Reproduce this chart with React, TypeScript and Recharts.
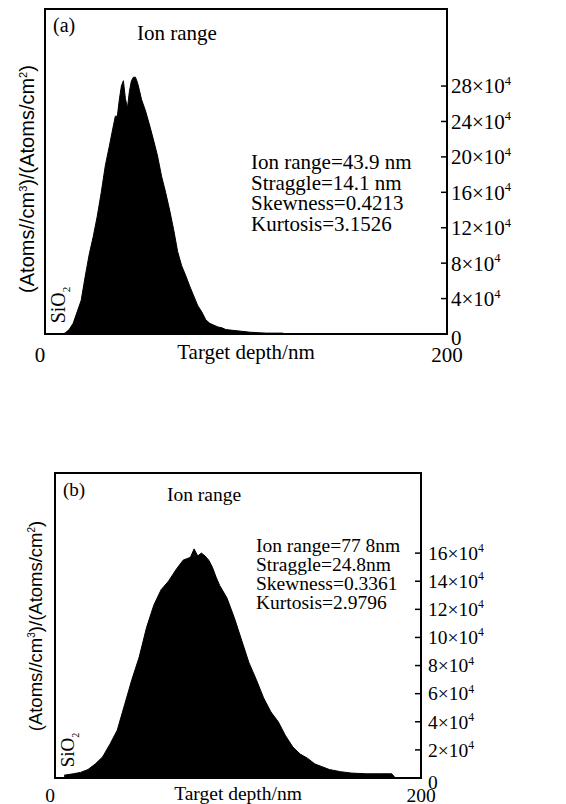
import React from 'react';
import { AreaChart, Area, XAxis, YAxis, ReferenceArea } from 'recharts';

// Panel (a): depth (nm) and concentration (x10^4)
const depthA = [8,10,12,14,16,18,20,22,24,26,28,30,32,34,35,36,37,38,39,40,41,42,43,44,45,46,47,48,50,52,54,56,58,60,62,64,66,68,70,72,74,76,78,80,82,84,86,88,90,94,98,102,106,110,114,118,120];
const valueA = [0,0.1,0.5,1.2,2.5,3.8,6.5,9.0,11.0,13.3,16.0,19.0,21.2,23.5,24.6,24.6,26.5,28.0,28.6,26.6,25.5,27.4,28.6,29.0,29.0,28.4,27.5,26.5,25.2,23.6,21.9,20.1,17.8,16.0,14.0,11.8,9.3,7.7,6.6,5.4,4.3,3.2,2.5,1.6,1.2,1.0,0.8,0.7,0.5,0.4,0.3,0.2,0.15,0.1,0.1,0.1,0];
const yTicksA = [0,4,8,12,16,20,24,28];
const statsA = ['Ion range=43.9 nm', 'Straggle=14.1 nm', 'Skewness=0.4213', 'Kurtosis=3.1526'];

// Panel (b)
const depthB = [5,10,14,18,22,26,30,34,38,42,46,50,54,58,62,66,70,74,76,78,80,82,84,86,88,90,94,98,102,106,110,114,118,122,126,130,134,138,142,146,150,156,162,170,178,184,186];
const valueB = [0.2,0.3,0.4,0.6,1.0,1.5,2.4,3.4,5.2,7.0,8.6,10.7,12.3,13.4,14.0,14.8,15.5,15.7,16.3,15.8,16.0,15.8,15.5,15.0,14.3,13.7,12.8,11.4,9.8,8.2,7.0,5.7,4.7,4.0,3.0,2.2,1.7,1.4,1.0,0.8,0.6,0.45,0.35,0.3,0.3,0.3,0];
const yTicksB = [0,2,4,6,8,10,12,14,16];
const statsB = ['Ion range=77 8nm', 'Straggle=24.8nm', 'Skewness=0.3361', 'Kurtosis=2.9796'];

const xTicks = [0, 200];

const SERIF = '"Liberation Serif", "Times New Roman", serif';
const SANS = '"Liberation Sans", Arial, sans-serif';

const dataA = depthA.map((d, i) => ({ depth: d, value: valueA[i] }));
const dataB = depthB.map((d, i) => ({ depth: d, value: valueB[i] }));

function makeYTick(fs: number, gap: number) {
  return (props: any) => {
    const { x, y, payload } = props;
    const v = payload.value;
    return (
      <g>
        <line x1={x - 6} x2={x} y1={y} y2={y} stroke="#000" strokeWidth={1.5} />
        {v === 0 ? (
          <text x={x + gap} y={y + 4} dy="0.35em" fontFamily={SERIF} fontSize={fs} fill="#000">0</text>
        ) : (
          <text x={x + gap} y={y} dy="0.35em" fontFamily={SERIF} fontSize={fs} fill="#000">
            {v}×10<tspan dy={-fs * 0.4} fontSize={fs * 0.6}>4</tspan>
          </text>
        )}
      </g>
    );
  };
}

function makeXTick(fs: number, off: number) {
  return (props: any) => {
    const { x, y, payload } = props;
    const v = payload.value;
    return (
      <text x={v === 0 ? x - 5 : x} y={y + off} dy="0.35em" textAnchor="middle" fontFamily={SERIF} fontSize={fs} fill="#000">{v}</text>
    );
  };
}

function Panel(props: any) {
  const { data, top, height, margin, yMax, yTicks, fs, xOff, yGap, xLabelOff } = props;
  return (
    <div style={{ position: 'absolute', left: 0, top, width: 566, height }}>
      <AreaChart width={566} height={height} data={data} margin={margin}>
        <XAxis
          dataKey="depth"
          type="number"
          domain={[0, 200]}
          ticks={xTicks}
          axisLine={{ stroke: '#000', strokeWidth: 2 }}
          tickLine={false}
          tickSize={0}
          tickMargin={0}
          height={margin.xh}
          tick={makeXTick(fs, xOff)}
          label={{ value: 'Target depth/nm', position: 'insideTop', offset: xLabelOff, fill: '#000', fontFamily: SERIF, fontSize: fs }}
        />
        <YAxis
          orientation="right"
          type="number"
          domain={[0, yMax]}
          allowDataOverflow
          ticks={yTicks}
          axisLine={{ stroke: '#000', strokeWidth: 2 }}
          tickLine={false}
          tickSize={0}
          tickMargin={0}
          width={margin.yw}
          tick={makeYTick(fs, yGap)}
        />
        <Area
          type="linear"
          dataKey="value"
          stroke="#000"
          strokeWidth={1}
          fill="#000"
          fillOpacity={1}
          isAnimationActive={false}
          dot={false}
          activeDot={false}
        />
        <ReferenceArea x1={0} x2={200} y1={0} y2={yMax} fill="none" stroke="#000" strokeWidth={2} ifOverflow="visible" />
      </AreaChart>
    </div>
  );
}

const abs = (s: any) => ({ position: 'absolute' as const, whiteSpace: 'nowrap' as const, color: '#000', ...s });

export default function App() {
  return (
    <div style={{ position: 'absolute', left: 0, top: 0, width: 566, height: 804, background: '#fff', overflow: 'hidden' }}>
      <Panel
        data={dataA}
        top={0}
        height={400}
        margin={{ top: 9, left: 45, right: 49, bottom: 24, xh: 42, yw: 70 }}
        yMax={36.7}
        yTicks={yTicksA}
        fs={21}
        xOff={21}
        yGap={4}
        xLabelOff={10}
      />
      <Panel
        data={dataB}
        top={420}
        height={384}
        margin={{ top: 53, left: 55, right: 75, bottom: 0, xh: 26, yw: 70 }}
        yMax={21.7}
        yTicks={yTicksB}
        fs={19.5}
        xOff={17}
        yGap={7}
        xLabelOff={8}
      />

      {/* Panel (a) annotations */}
      <div style={abs({ left: 53, top: 13, fontFamily: SERIF, fontSize: 20, lineHeight: '24px' })}>(a)</div>
      <div style={abs({ left: 137, top: 21, fontFamily: SERIF, fontSize: 21, lineHeight: '24px' })}>Ion range</div>
      <div style={abs({ left: 251, top: 152, fontFamily: SERIF, fontSize: 21, lineHeight: '20.7px' })}>
        {statsA.map((s) => <div key={s}>{s}</div>)}
      </div>
      <div style={abs({ left: 25, top: 179, fontFamily: SANS, fontSize: 20, transform: 'translate(-50%, -50%) rotate(-90deg)', lineHeight: '24px' })}>
        (Atoms//cm<sup style={{ fontSize: 11 }}>3</sup>)/(Atoms/cm<sup style={{ fontSize: 11 }}>2</sup>)
      </div>
      <div style={abs({ left: 62, top: 305, fontFamily: SERIF, fontSize: 20, transform: 'translate(-50%, -50%) rotate(-90deg)', lineHeight: '22px' })}>
        SiO<sub style={{ fontSize: 11 }}>2</sub>
      </div>

      {/* Panel (b) annotations */}
      <div style={abs({ left: 63, top: 478, fontFamily: SERIF, fontSize: 19, lineHeight: '24px' })}>(b)</div>
      <div style={abs({ left: 167, top: 483, fontFamily: SERIF, fontSize: 19.5, lineHeight: '24px' })}>Ion range</div>
      <div style={abs({ left: 256, top: 536, fontFamily: SERIF, fontSize: 19.5, lineHeight: '19px' })}>
        {statsB.map((s) => <div key={s}>{s}</div>)}
      </div>
      <div style={abs({ left: 34, top: 626, fontFamily: SANS, fontSize: 18.5, transform: 'translate(-50%, -50%) rotate(-90deg)', lineHeight: '22px' })}>
        (Atoms//cm<sup style={{ fontSize: 10 }}>3</sup>)/(Atoms/cm<sup style={{ fontSize: 10 }}>2</sup>)
      </div>
      <div style={abs({ left: 72, top: 750, fontFamily: SERIF, fontSize: 19, transform: 'translate(-50%, -50%) rotate(-90deg)', lineHeight: '22px' })}>
        SiO<sub style={{ fontSize: 10 }}>2</sub>
      </div>
    </div>
  );
}
